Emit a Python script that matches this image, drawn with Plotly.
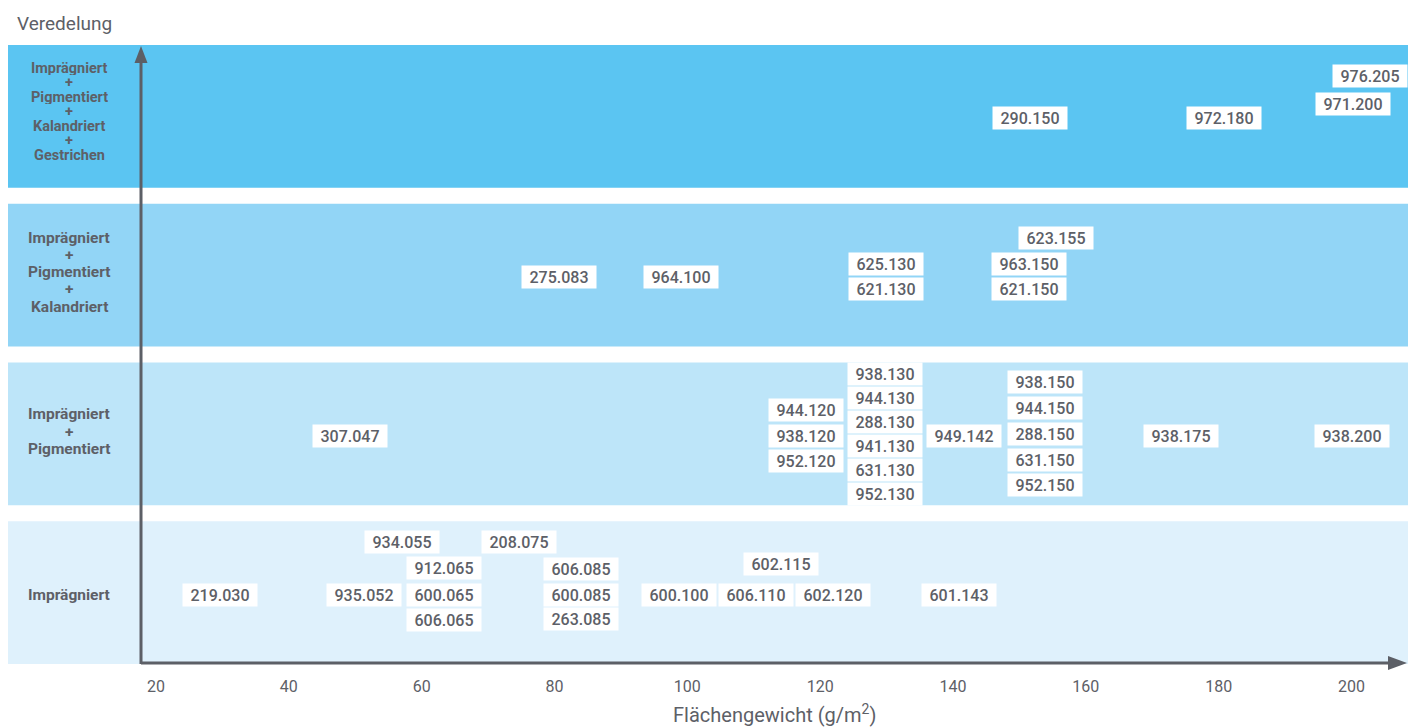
import plotly.graph_objects as go

# ---------------- data ----------------
categories = [
    ["Imprägniert"],
    ["Imprägniert", "+", "Pigmentiert"],
    ["Imprägniert", "+", "Pigmentiert", "+", "Kalandriert"],
    ["Imprägniert", "+", "Pigmentiert", "+", "Kalandriert", "+", "Gestrichen"],
]
band_colors = ["#dff1fc", "#bde5f9", "#92d5f6", "#5bc5f2"]

x_tickvals = [20, 40, 60, 80, 100, 120, 140, 160, 180, 200]
x_ticktext = ["20", "40", "60", "80", "100", "120", "140", "160", "180", "200"]

box_labels = [
    # Imprägniert
    "219.030", "934.055", "935.052", "912.065", "600.065", "606.065", "208.075",
    "606.085", "600.085", "263.085", "600.100", "606.110", "602.115", "602.120", "601.143",
    # Imprägniert + Pigmentiert
    "307.047", "944.120", "938.120", "952.120",
    "938.130", "944.130", "288.130", "941.130", "631.130", "952.130",
    "949.142", "938.150", "944.150", "288.150", "631.150", "952.150",
    "938.175", "938.200",
    # + Kalandriert
    "275.083", "964.100", "625.130", "621.130", "623.155", "963.150", "621.150",
    # + Gestrichen
    "290.150", "972.180", "971.200", "976.205",
]
box_band = [0] * 15 + [1] * 18 + [2] * 7 + [3] * 4
box_x = [
    29.6, 57.0, 51.3, 63.4, 63.4, 63.4, 74.6, 84.0, 84.0, 84.0, 98.7, 110.3, 114.1, 121.9, 140.9,
    49.2, 117.9, 117.9, 117.9,
    129.7, 129.7, 129.7, 129.7, 129.7, 129.7,
    141.6, 153.8, 153.8, 153.8, 153.8, 153.8,
    174.3, 200.0,
    80.7, 99.0, 129.9, 129.9, 155.5, 151.4, 151.4,
    151.6, 180.8, 200.2, 202.8,
]
box_slot = [
    0, 2.19, 0, 1.1, 0, -1.06, 2.19, 1.06, 0, -1.02, 0, 0, 1.27, 0, 0,
    0, 1.06, 0, -1.06,
    2.56, 1.56, 0.56, -0.44, -1.44, -2.44,
    0, 2.23, 1.15, 0.06, -1.02, -2.06,
    0, 0,
    0, 0, 0.56, -0.48, 1.65, 0.56, -0.48,
    0, 0, 0.6, 1.77,
]

# ---------------- layout helpers ----------------
W, H = 1412, 727
ML, MR, MT, MB = 141, 4, 45, 63
PW, PH = W - ML - MR, H - MT - MB
Y0, Y1 = -0.45, 3.45
PX_PER_Y = PH / (Y1 - Y0)
ROW_PX = 24
TXT = "#5d6067"
AX = "#5c5f66"

fig = go.Figure()

shapes = []
for i, c in enumerate(band_colors):
    shapes.append(dict(type="rect", xref="paper", yref="y",
                       x0=(8 - ML) / PW, x1=1.0, y0=i - 0.45, y1=i + 0.45,
                       fillcolor=c, line=dict(width=0), layer="below"))

def px2paper(px, py):
    return (px - ML) / PW, (H - MB - py) / PH

# x axis line + arrow
xa, ya = px2paper(141, 663)
xb, _ = px2paper(1392, 663)
shapes.append(dict(type="line", xref="paper", yref="paper", x0=xa, y0=ya, x1=xb, y1=ya,
                   line=dict(color=AX, width=3)))
t1 = px2paper(1407, 663); t2 = px2paper(1388, 656); t3 = px2paper(1388, 670)
shapes.append(dict(type="path", xref="paper", yref="paper",
                   path=f"M {t1[0]},{t1[1]} L {t2[0]},{t2[1]} L {t3[0]},{t3[1]} Z",
                   fillcolor=AX, line=dict(color=AX, width=0)))
# y axis line + arrow
p0 = px2paper(141, 664); p1 = px2paper(141, 60)
shapes.append(dict(type="line", xref="paper", yref="paper", x0=p0[0], y0=p0[1], x1=p1[0], y1=p1[1],
                   line=dict(color=AX, width=3)))
a1 = px2paper(141, 46); a2 = px2paper(134.5, 63); a3 = px2paper(147.5, 63)
shapes.append(dict(type="path", xref="paper", yref="paper",
                   path=f"M {a1[0]},{a1[1]} L {a2[0]},{a2[1]} L {a3[0]},{a3[1]} Z",
                   fillcolor=AX, line=dict(color=AX, width=0)))

annotations = []
# category labels on the left
label_pitch = [17.3, 17.5, 17.25, 14.5]
label_shift = [-2.5, 2, 3, 5]
label_size = [15.5, 15.5, 15.5, 14.5]
label_boxh = [None, None, None, 14]
for i, lines in enumerate(categories):
    n = len(lines)
    for k, ln in enumerate(lines):
        off = ((n - 1) / 2 - k) * label_pitch[i] + label_shift[i]
        ann = dict(xref="paper", yref="y", x=(69 - ML) / PW, y=i,
                   yshift=off, text=f"<b>{ln}</b>", showarrow=False,
                   xanchor="center", yanchor="middle", borderpad=0,
                   font=dict(family="Roboto", size=label_size[i], color=TXT))
        if label_boxh[i]:
            ann["height"] = label_boxh[i]
        annotations.append(ann)

# value boxes
for lab, b, xv, s in zip(box_labels, box_band, box_x, box_slot):
    annotations.append(dict(xref="x", yref="y", x=xv, y=b + s * ROW_PX / PX_PER_Y,
                            yshift=-2, text=lab, showarrow=False,
                            xanchor="center", yanchor="middle",
                            bgcolor="white", width=72, height=20, borderpad=1,
                            font=dict(family="Roboto", size=16, color=TXT, weight=500)))

# titles
annotations.append(dict(xref="paper", yref="paper", x=(15 - ML) / PW, y=(H - MB - 24) / PH,
                        text="Veredelung", showarrow=False, xanchor="left", yanchor="middle",
                        font=dict(family="Roboto", size=19, color=TXT)))
annotations.append(dict(xref="paper", yref="paper", x=(774 - ML) / PW, y=(H - MB - 714) / PH,
                        text="Flächengewicht (g/m<sup>2</sup>)", showarrow=False,
                        xanchor="center", yanchor="middle",
                        font=dict(family="Roboto", size=20, color=TXT)))

fig.update_layout(
    width=W, height=H,
    margin=dict(l=ML, r=MR, t=MT, b=MB),
    paper_bgcolor="white", plot_bgcolor="rgba(0,0,0,0)",
    shapes=shapes, annotations=annotations, showlegend=False,
    xaxis=dict(range=[17.75, 208.5], tickvals=x_tickvals, ticktext=x_ticktext,
               showgrid=False, zeroline=False, showline=False,
               ticks="outside", ticklen=8, tickcolor="rgba(0,0,0,0)",
               tickfont=dict(family="Roboto", size=16, color=TXT), fixedrange=True),
    yaxis=dict(range=[Y0, Y1], showgrid=False, zeroline=False, showline=False,
               showticklabels=False, fixedrange=True),
)

fig.write_html("out.html", config={"displayModeBar": False},
               post_script="document.body.style.margin='0';document.body.style.overflow='hidden';")
